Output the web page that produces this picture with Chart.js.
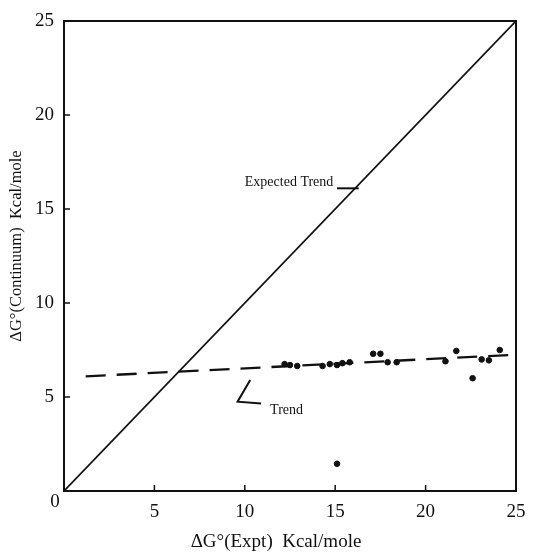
<!DOCTYPE html>
<html>
<head>
<meta charset="utf-8">
<script src="https://cdn.jsdelivr.net/npm/chart.js@4/dist/chart.umd.min.js"></script>
<style>
  html, body { margin: 0; padding: 0; background: #fff; }
  #wrap { width: 545px; height: 555px; }
</style>
</head>
<body>
<div id="wrap"><canvas id="plot"></canvas></div>
<script>
// ΔG° experimental vs continuum values
const exptX = [12.2, 12.5, 12.9, 14.3, 14.7, 15.1, 15.4, 15.8, 17.1, 17.5, 17.9, 18.4, 21.1, 21.7, 22.6, 23.1, 23.5, 24.1, 15.1];
const contY = [6.75, 6.7, 6.65, 6.65, 6.75, 6.7, 6.8, 6.85, 7.3, 7.3, 6.85, 6.85, 6.9, 7.45, 6.0, 7.0, 6.95, 7.5, 1.45];

// expected trend (y = x) and fitted trend
const expectedX = [0, 25];
const expectedY = [0, 25];
const trendX = [1.2, 25];
const trendY = [6.1, 7.25];

const tickValues = [0, 5, 10, 15, 20, 25];

const serif = "'Liberation Serif', 'DejaVu Serif', serif";

function pts(xs, ys) {
    return xs.map((x, i) => ({ x: x, y: ys[i] }));
}

// inner ticks, axis titles, labels and the little arrow marks
const extras = {
    id: 'extras',
    afterDraw(chart) {
        const ctx = chart.ctx;
        const xs = chart.scales.x, ys = chart.scales.y;
        const a = chart.chartArea;
        ctx.save();
        ctx.strokeStyle = '#111';
        ctx.lineWidth = 1.5;
        ctx.beginPath();
        tickValues.slice(1, 5).forEach(v => {
            const px = xs.getPixelForValue(v);
            ctx.moveTo(px, a.bottom);
            ctx.lineTo(px, a.bottom - 6);
            const py = ys.getPixelForValue(v);
            ctx.moveTo(a.left, py);
            ctx.lineTo(a.left + 6, py);
        });
        ctx.stroke();

        // leader dash next to "Expected Trend"
        ctx.lineWidth = 2;
        ctx.beginPath();
        ctx.moveTo(xs.getPixelForValue(15.1), ys.getPixelForValue(16.1));
        ctx.lineTo(xs.getPixelForValue(16.3), ys.getPixelForValue(16.1));
        ctx.stroke();

        // angle mark near "Trend"
        ctx.beginPath();
        ctx.moveTo(xs.getPixelForValue(10.3), ys.getPixelForValue(5.9));
        ctx.lineTo(xs.getPixelForValue(9.6), ys.getPixelForValue(4.75));
        ctx.lineTo(xs.getPixelForValue(10.9), ys.getPixelForValue(4.65));
        ctx.stroke();

        ctx.fillStyle = '#111';
        ctx.font = '14px ' + serif;
        ctx.textBaseline = 'middle';
        ctx.textAlign = 'left';
        ctx.fillText('Expected Trend', xs.getPixelForValue(10.0), ys.getPixelForValue(16.4));
        ctx.fillText('Trend', xs.getPixelForValue(11.4), ys.getPixelForValue(4.3));

        // shared origin label
        ctx.font = '19px ' + serif;
        ctx.textAlign = 'center';
        ctx.fillText('0', a.left - 9, a.bottom + 11);

        // axis titles
        ctx.font = '19px ' + serif;
        ctx.fillText('ΔG°(Expt)  Kcal/mole', 276, 542);
        ctx.translate(17, 246);
        ctx.rotate(-Math.PI / 2);
        ctx.font = '16.5px ' + serif;
        ctx.fillText('ΔG°(Continuum)  Kcal/mole', 0, 0);
        ctx.restore();
    }
};

new Chart(document.getElementById('plot').getContext('2d'), {
    type: 'scatter',
    data: {
        datasets: [{
            label: 'Data',
            data: pts(exptX, contY),
            backgroundColor: '#111',
            borderColor: '#111',
            pointRadius: 2.8,
            pointHoverRadius: 2.8
        }, {
            label: 'Expected Trend',
            type: 'line',
            data: pts(expectedX, expectedY),
            borderColor: '#111',
            borderWidth: 1.7,
            pointRadius: 0,
            fill: false
        }, {
            label: 'Trend',
            type: 'line',
            data: pts(trendX, trendY),
            borderColor: '#111',
            borderWidth: 2.3,
            borderDash: [20, 11],
            pointRadius: 0,
            fill: false
        }]
    },
    options: {
        responsive: true,
        maintainAspectRatio: false,
        animation: false,
        layout: { padding: { top: 21, right: 29, left: 0, bottom: 0 } },
        plugins: {
            legend: { display: false },
            tooltip: { enabled: false }
        },
        scales: {
            x: {
                type: 'linear',
                min: 0,
                max: 25,
                afterBuildTicks: s => { s.ticks = tickValues.map(v => ({ value: v })); },
                afterFit: s => { s.height = 64; },
                border: { display: true, color: '#111', width: 2 },
                grid: { display: false },
                ticks: {
                    color: '#111',
                    font: { family: serif, size: 19 },
                    padding: 2,
                    maxRotation: 0,
                    callback: v => v === 0 ? '' : String(v)
                }
            },
            y: {
                type: 'linear',
                min: 0,
                max: 25,
                afterBuildTicks: s => { s.ticks = tickValues.map(v => ({ value: v })); },
                afterFit: s => { s.width = 64; },
                border: { display: true, color: '#111', width: 2 },
                grid: { display: false },
                ticks: {
                    color: '#111',
                    font: { family: serif, size: 19 },
                    padding: 2,
                    callback: v => v === 0 ? '' : String(v)
                }
            },
            x2: {
                type: 'linear', position: 'top', min: 0, max: 25,
                display: true,
                afterFit: s => { s.height = 0; },
                border: { display: true, color: '#111', width: 2 },
                grid: { display: false },
                ticks: { display: false }
            },
            y2: {
                type: 'linear', position: 'right', min: 0, max: 25,
                display: true,
                afterFit: s => { s.width = 0; },
                border: { display: true, color: '#111', width: 2 },
                grid: { display: false },
                ticks: { display: false }
            }
        }
    },
    plugins: [extras]
});
</script>
</body>
</html>
